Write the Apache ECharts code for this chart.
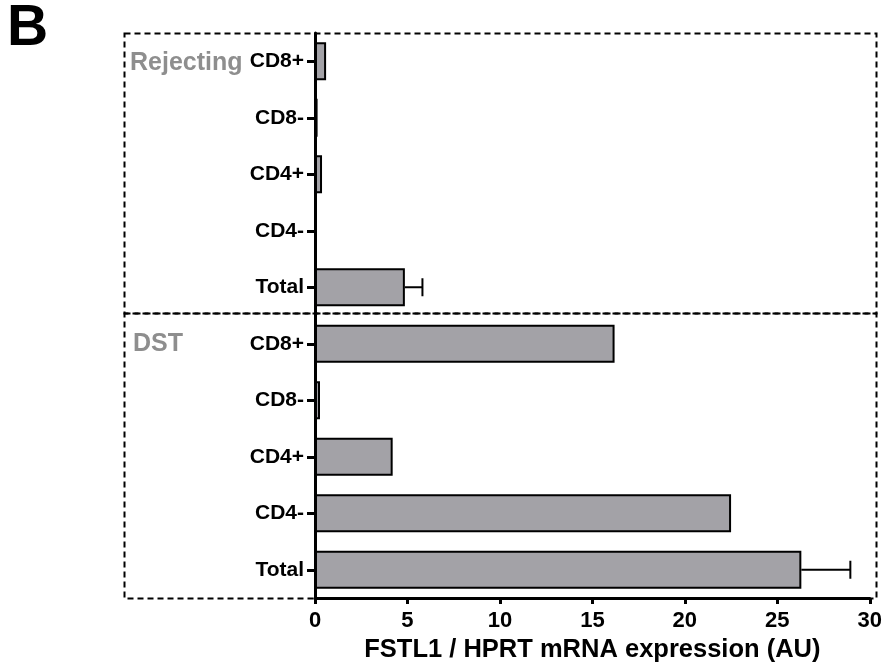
<!DOCTYPE html>
<html>
<head>
<meta charset="utf-8">
<script src="https://cdn.jsdelivr.net/npm/echarts@6/dist/echarts.min.js"></script>
<style>
  html, body { margin: 0; padding: 0; background: #ffffff; }
  #chart { width: 885px; height: 671px; }
</style>
</head>
<body>
<div id="chart"></div>
<script>
// FSTL1 / HPRT expression by cell subset, rejecting vs DST recipients
const cellTypes = ['CD8+', 'CD8-', 'CD4+', 'CD4-', 'Total'];
const groups = ['Rejecting', 'DST'];
const rejectingMean = [0.6, 0.14, 0.38, 0.06, 4.86];
const rejectingErr = [0, 0, 0, 0, 0.95];
const dstMean = [16.2, 0.27, 4.2, 22.5, 26.3];
const dstErr = [0, 0, 0, 0, 2.65];
const xMin = 0, xMax = 30, xStep = 5;
const axisTitle = 'FSTL1 / HPRT mRNA expression (AU)';
const panelLetter = 'B';

const FONT = '"Liberation Sans", Arial, Helvetica, sans-serif';

// one category row per (group, cell type)
const rowKeys = [];
const means = [];
const errs = [];
groups.forEach((g, gi) => {
  const m = gi === 0 ? rejectingMean : dstMean;
  const e = gi === 0 ? rejectingErr : dstErr;
  cellTypes.forEach((c, ci) => {
    rowKeys.push(g + '|' + c);
    means.push(m[ci]);
    errs.push(e[ci]);
  });
});

const errData = rowKeys
  .map((k, i) => [means[i], i, errs[i]])
  .filter(d => d[2] > 0);

const chart = echarts.init(document.getElementById('chart'), null, { renderer: 'canvas' });

const option = {
  animation: false,
  backgroundColor: '#ffffff',
  grid: { left: 315, right: 15, top: 33, bottom: 73, containLabel: false },
  xAxis: {
    type: 'value',
    min: xMin, max: xMax, interval: xStep,
    name: axisTitle,
    nameLocation: 'middle',
    nameGap: 38,
    nameTextStyle: { fontFamily: FONT, fontWeight: 'bold', fontSize: 25.5, color: '#000' },
    axisLine: { show: true, lineStyle: { color: '#000', width: 3 } },
    axisTick: { show: true, length: 6, lineStyle: { color: '#000', width: 3 } },
    axisLabel: { fontFamily: FONT, fontWeight: 'bold', fontSize: 22, color: '#000', margin: 12 },
    splitLine: { show: false }
  },
  yAxis: {
    type: 'category',
    inverse: true,
    data: rowKeys,
    axisLine: { show: true, lineStyle: { color: '#000', width: 3 } },
    axisTick: { show: true, alignWithLabel: true, length: 8, lineStyle: { color: '#000', width: 3 } },
    axisLabel: {
      fontFamily: FONT, fontWeight: 'bold', fontSize: 21, color: '#000', margin: 11,
      formatter: v => v.split('|')[1]
    },
    splitLine: { show: false }
  },
  series: [
    {
      type: 'bar',
      data: means,
      barWidth: 38,
      itemStyle: { color: '#a3a2a7', borderColor: '#000', borderWidth: 2 },
      z: 2
    },
    {
      type: 'custom',
      data: errData,
      z: 3,
      renderItem: (params, api) => {
        const m = api.value(0), row = api.value(1), e = api.value(2);
        const p0 = api.coord([m, row]);
        const p1 = api.coord([m + e, row]);
        const cap = 9;
        const st = { stroke: '#000', lineWidth: 2 };
        return {
          type: 'group',
          children: [
            { type: 'line', shape: { x1: p0[0], y1: p0[1], x2: p1[0], y2: p1[1] }, style: st },
            { type: 'line', shape: { x1: p1[0], y1: p1[1] - cap, x2: p1[0], y2: p1[1] + cap }, style: st }
          ]
        };
      }
    }
  ],
  graphic: [
    {
      type: 'text', left: 7, top: 1,
      style: { text: panelLetter, fontFamily: FONT, fontWeight: 'bold', fontSize: 57, fill: '#000' }
    },
    // dashed frames around the two groups
    {
      type: 'rect', z: 0,
      shape: { x: 124.5, y: 33.5, width: 752, height: 280 },
      style: { fill: 'none', stroke: '#000', lineWidth: 2, lineDash: [6, 4] }
    },
    {
      type: 'rect', z: 0,
      shape: { x: 124.5, y: 313.5, width: 752, height: 285 },
      style: { fill: 'none', stroke: '#000', lineWidth: 2, lineDash: [6, 4] }
    },
    {
      type: 'text', left: 130, top: 51,
      style: { text: groups[0], fontFamily: FONT, fontWeight: 'bold', fontSize: 25, fill: '#8e8e8e' }
    },
    {
      type: 'text', left: 133, top: 332,
      style: { text: groups[1], fontFamily: FONT, fontWeight: 'bold', fontSize: 25, fill: '#8e8e8e' }
    }
  ]
};

chart.setOption(option);
</script>
</body>
</html>
